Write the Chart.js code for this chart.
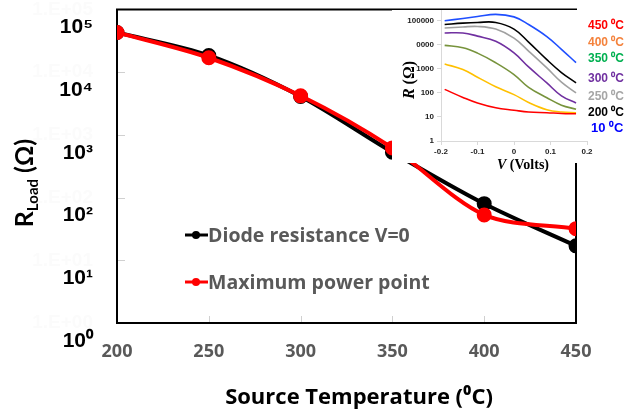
<!DOCTYPE html>
<html>
<head>
<meta charset="utf-8">
<script src="https://cdn.jsdelivr.net/npm/chart.js@4.4.1/dist/chart.umd.min.js"></script>
<style>
  html, body { margin: 0; padding: 0; background: #fff; }
  #wrap { position: relative; width: 627px; height: 416px; overflow: hidden; }
  #main { position: absolute; left: 0; top: 0; }
  #inset { position: absolute; left: 392px; top: 10px; }
</style>
</head>
<body>
<div id="wrap">
  <canvas id="main" width="627" height="416"></canvas>
  <canvas id="inset" width="235" height="165"></canvas>
</div>
<script>
"use strict"

// main chart data
const temps = [200, 250, 300, 350, 400, 450];
const diodeR = [43000, 18500, 4100, 530, 80, 17];
const mppR = [43000, 17000, 4200, 620, 53, 32];
const decades = [1, 10, 100, 1000, 10000, 100000];
const supDigits = ['⁰', '¹', '²', '³', '⁴', '⁵'];
const seriesNames = ['Diode resistance V=0', 'Maximum power point'];
const xTitle = 'Source Temperature (⁰C)';

// inset data (R vs V at each source temperature)
const volts = [-0.19, -0.14, -0.1, -0.05, 0, 0.04, 0.09, 0.13, 0.17];
const r10C = [100000, 125000, 150000, 185000, 145000, 70000, 22000, 6500, 1800];
const r200C = [70000, 80000, 85000, 85000, 45000, 13000, 2400, 700, 260];
const r250C = [50000, 55000, 58000, 45000, 19000, 5500, 1100, 280, 100];
const r300C = [31000, 31000, 23000, 14000, 4600, 1200, 260, 75, 38];
const r350C = [9500, 7500, 4500, 1800, 580, 170, 63, 31, 21];
const r400C = [1600, 930, 450, 180, 85, 40, 20, 16, 15];
const r450C = [140, 65, 38, 24, 19, 16, 15, 14, 13.5];
const insetYLabels = ['1', '10', '100', '1000', '0000', '100000'];
const insetNames = ['450 ⁰C', '400 ⁰C', '350 ⁰C', '300 ⁰C', '250 ⁰C', '200 ⁰C', '10 ⁰C'];

const sans = '"Open Sans", Lato, sans-serif';
const lato = 'Lato, "Open Sans", sans-serif';
const arial = '"Liberation Sans", Arial, sans-serif';
const serif = '"Liberation Serif", "DejaVu Serif", serif';

function pts(xs, ys) {
  return xs.map((x, i) => ({x: x, y: ys[i]}));
}

function noPad(s) {
  s.paddingTop = 0; s.paddingBottom = 0; s.paddingLeft = 0; s.paddingRight = 0;
}

const mainDecor = {
  id: 'mainDecor',
  beforeDraw(chart) {
    // faint original excel labels behind the 10^n ones
    const ctx = chart.ctx, y = chart.scales.y;
    ctx.save();
    ctx.font = 'bold 19px ' + arial;
    ctx.fillStyle = '#fbfbfb';
    ctx.textAlign = 'right';
    ctx.textBaseline = 'middle';
    decades.forEach((d, i) => ctx.fillText('1.E+0' + i, 93, y.getPixelForValue(d)));
    ctx.restore();
  },
  beforeDatasetsDraw(chart) {
    const {ctx, chartArea: a, scales: {x, y}} = chart;
    ctx.save();
    ctx.strokeStyle = '#d0d0d0';
    ctx.lineWidth = 1;
    ctx.beginPath();
    decades.slice(1, -1).forEach(d => {
      const py = Math.round(y.getPixelForValue(d)) + 0.5;
      ctx.moveTo(a.left, py); ctx.lineTo(a.left + 8, py);
    });
    [250, 300, 350, 400].forEach(t => {
      const px = Math.round(x.getPixelForValue(t)) + 0.5;
      ctx.moveTo(px, a.bottom); ctx.lineTo(px, a.bottom - 7);
    });
    ctx.stroke();
    ctx.strokeStyle = '#000';
    ctx.lineWidth = 2;
    ctx.strokeRect(a.left, a.top, a.right - a.left, a.bottom - a.top);
    ctx.restore();
  },
  afterDraw(chart) {
    const ctx = chart.ctx;
    ctx.save();
    // legend
    const rows = [[235, '#000'], [282, '#ff0000']];
    ctx.font = 'bold 19.5px ' + sans;
    ctx.textBaseline = 'middle';
    rows.forEach((r, i) => {
      ctx.strokeStyle = r[1];
      ctx.fillStyle = r[1];
      ctx.lineWidth = 3;
      ctx.beginPath(); ctx.moveTo(185, r[0]); ctx.lineTo(208, r[0]); ctx.stroke();
      ctx.beginPath(); ctx.arc(196, r[0], 4, 0, Math.PI * 2); ctx.fill();
      ctx.fillStyle = '#595959';
      ctx.fillText(seriesNames[i], 208, r[0] + 1);
    });
    // x title
    ctx.fillStyle = '#000';
    ctx.font = 'bold 22px ' + sans;
    ctx.textAlign = 'center';
    ctx.fillText(xTitle, 359, 398);
    // y title R_Load (Ω)
    ctx.textAlign = 'left';
    ctx.translate(33, 183);
    ctx.rotate(-Math.PI / 2);
    const big = 'bold 25px ' + lato, small = 'bold 15px ' + lato;
    ctx.font = big;
    const wR = ctx.measureText('R').width;
    const wP = ctx.measureText(' (Ω)').width;
    ctx.font = small;
    const wL = ctx.measureText('Load').width;
    let cx = -(wR + wL + wP) / 2;
    ctx.textBaseline = 'alphabetic';
    ctx.font = big; ctx.fillText('R', cx, 0); cx += wR;
    ctx.font = small; ctx.fillText('Load', cx, 5); cx += wL;
    ctx.font = big; ctx.fillText(' (Ω)', cx, 0);
    ctx.restore();
  }
};

new Chart(document.getElementById('main'), {
  type: 'line',
  data: {
    datasets: [
      {
        label: seriesNames[0],
        data: pts(temps, diodeR),
        borderColor: '#000',
        backgroundColor: '#000',
        borderWidth: 4,
        pointRadius: 5.5,
        tension: 0.3,
        order: 1
      },
      {
        label: seriesNames[1],
        data: pts(temps, mppR),
        borderColor: '#ff0000',
        backgroundColor: '#ff0000',
        borderWidth: 4,
        pointRadius: 5.5,
        tension: 0.3,
        order: 0
      }
    ]
  },
  options: {
    responsive: false,
    animation: false,
    layout: {padding: {top: 7, right: 51, left: 0, bottom: 0}},
    plugins: {legend: {display: false}, tooltip: {enabled: false}},
    scales: {
      x: {
        type: 'linear',
        min: 200,
        max: 450,
        grid: {display: false, drawTicks: false},
        border: {display: false},
        ticks: {stepSize: 50, color: '#595959', font: {family: sans, size: 18, weight: 'bold'}, padding: 18},
        afterFit(s) { s.height = 93; noPad(s); }
      },
      y: {
        type: 'logarithmic',
        min: 1,
        max: 100000,
        grid: {display: false, drawTicks: false},
        border: {display: false},
        afterBuildTicks(s) { s.ticks = decades.map(v => ({value: v})); },
        ticks: {
          color: '#000',
          font: {family: arial, size: 21, weight: 'bold'},
          padding: 24,
          labelOffset: 18,
          callback: v => '10' + supDigits[Math.round(Math.log10(v))]
        },
        afterFit(s) { s.width = 117; noPad(s); }
      }
    }
  },
  plugins: [mainDecor]
});

// inset chart
const insetColors = ['#ff0000', '#ffc000', '#77933c', '#7030a0', '#a0a0a0', '#000000', '#1f4fff'];
const labelColors = ['#ff0000', '#f4823c', '#00b050', '#7030a0', '#a6a6a6', '#000000', '#0000ff'];
const labelRows = [16, 33, 49, 69, 87, 103, 118];

const insetDecor = {
  id: 'insetDecor',
  beforeDraw(chart) {
    const ctx = chart.ctx;
    ctx.save();
    ctx.fillStyle = '#fff';
    ctx.fillRect(0, 0, chart.width, 153);
    ctx.restore();
  },
  afterDraw(chart) {
    const ctx = chart.ctx;
    ctx.save();
    // temperature labels
    ctx.textBaseline = 'middle';
    ctx.textAlign = 'left';
    insetNames.forEach((n, i) => {
      ctx.font = (i === 6 ? 'bold 13px ' : 'bold 12px ') + arial;
      ctx.fillStyle = labelColors[i];
      ctx.fillText(n, i === 6 ? 199 : 196, labelRows[i]);
    });
    // x title
    ctx.fillStyle = '#000';
    ctx.font = 'bold italic 14px ' + serif;
    const wV = ctx.measureText('V').width;
    ctx.font = 'bold 14px ' + serif;
    const wRest = ctx.measureText(' (Volts)').width;
    let cx = 131 - (wV + wRest) / 2;
    ctx.font = 'bold italic 14px ' + serif; ctx.fillText('V', cx, 155);
    ctx.font = 'bold 14px ' + serif; ctx.fillText(' (Volts)', cx + wV, 155);
    // y title
    ctx.translate(18, 70);
    ctx.rotate(-Math.PI / 2);
    ctx.font = 'bold italic 16px ' + serif;
    const wR = ctx.measureText('R').width;
    ctx.font = 'bold 16px ' + serif;
    const wO = ctx.measureText(' (Ω)').width;
    cx = -(wR + wO) / 2;
    ctx.font = 'bold italic 16px ' + serif; ctx.fillText('R', cx, 0);
    ctx.font = 'bold 16px ' + serif; ctx.fillText(' (Ω)', cx + wR, 0);
    ctx.restore();
  }
};

const insetSeries = [r450C, r400C, r350C, r300C, r250C, r200C, r10C];

new Chart(document.getElementById('inset'), {
  type: 'line',
  data: {
    datasets: insetSeries.map((r, i) => ({
      label: insetNames[i],
      data: pts(volts, r),
      borderColor: insetColors[i],
      borderWidth: 1.6,
      pointRadius: 0,
      tension: 0.4
    }))
  },
  options: {
    responsive: false,
    animation: false,
    layout: {padding: {top: 0, right: 40, left: 0, bottom: 0}},
    plugins: {legend: {display: false}, tooltip: {enabled: false}},
    scales: {
      x: {
        type: 'linear',
        min: -0.2,
        max: 0.2,
        grid: {display: true, drawOnChartArea: false, drawTicks: true, tickLength: 4, color: '#d9d9d9'},
        border: {color: '#d9d9d9'},
        ticks: {stepSize: 0.1, color: '#222', padding: 2, font: {family: arial, size: 8, weight: 'bold'},
                callback: v => String(Math.round(v * 10) / 10)},
        afterFit(s) { s.height = 34; noPad(s); }
      },
      y: {
        type: 'logarithmic',
        min: 1,
        max: 280000,
        grid: {display: true, drawOnChartArea: false, drawTicks: true, tickLength: 4, color: '#d9d9d9'},
        border: {color: '#d9d9d9'},
        afterBuildTicks(s) { s.ticks = decades.map(v => ({value: v})); },
        ticks: {color: '#222', padding: 3, font: {family: arial, size: 8, weight: 'bold'},
                callback: (v, i) => insetYLabels[i]},
        afterFit(s) { s.width = 49; noPad(s); }
      }
    }
  },
  plugins: [insetDecor]
});
</script>
</body>
</html>
